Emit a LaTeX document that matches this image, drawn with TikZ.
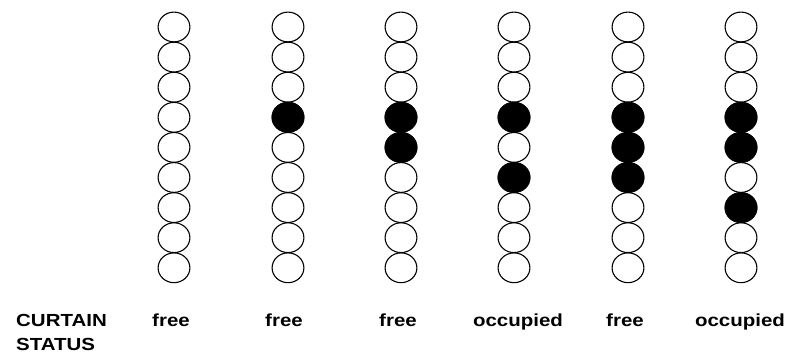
\documentclass[tikz,border=0pt]{standalone}
\usepackage{fontspec}
\setmainfont{Liberation Sans}[FakeStretch=1.17]
\usetikzlibrary{shapes.geometric}

\begin{document}
\begin{tikzpicture}[x=1pt,y=1pt,
    bead/.style={ellipse,draw,line width=1.1pt,minimum width=31.8pt,minimum height=29.8pt,inner sep=0pt},
    full/.style={bead,fill=black},
    status/.style={font=\bfseries\fontsize{17.5}{24}\selectfont,inner sep=0pt}]
    \useasboundingbox (0,0) rectangle (790,358);
    % columns of beads, filled ones listed per column
    \foreach \col/\x/\filled in {1/174/{0}, 2/288/{4}, 3/401/{4,5}, 4/514/{4,6}, 5/628/{4,5,6}, 6/741/{4,5,7}} {
        \foreach \row in {1,...,9} {
            \node[bead] (b\col-\row) at (\x,{331-30.1*(\row-1)}) {};
        }
        \foreach \row in \filled {
            \ifnum\row>0
                \node[full] at (b\col-\row) {};
            \fi
        }
    }
    % status line
    \node[status,anchor=north west,align=left] (title) at (16,44) {CURTAIN\\STATUS};
    \node[status,anchor=base] (s1) at (171,31) {free};
    \node[status,anchor=base] (s2) at (284,31) {free};
    \node[status,anchor=base] (s3) at (398,31) {free};
    \node[status,anchor=base] (s4) at (518,31) {occupied};
    \node[status,anchor=base] (s5) at (625,31) {free};
    \node[status,anchor=base] (s6) at (740,31) {occupied};
\end{tikzpicture}
\end{document}
